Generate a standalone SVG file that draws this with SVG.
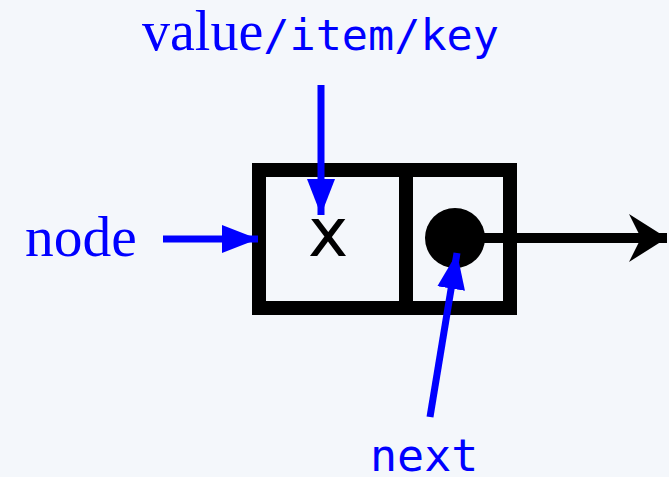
<svg xmlns="http://www.w3.org/2000/svg" width="669" height="477" viewBox="0 0 669 477">
<style>
.serif{font-family:"Liberation Serif","DejaVu Serif",serif;fill:#0000ff}
.mono{font-family:"DejaVu Sans Mono","Liberation Mono",monospace;fill:#0000ff}
.box{fill:none;stroke:#000;stroke-width:14}
.blue{stroke:#0000ff;stroke-width:7;fill:none}
</style>
<defs>
<marker id="bh" markerUnits="userSpaceOnUse" markerWidth="40" markerHeight="30" refX="36" refY="14" orient="auto">
<path d="M0,0 L36,14 L0,28 Z" fill="#0000ff"/>
</marker>
<marker id="kh" markerUnits="userSpaceOnUse" markerWidth="40" markerHeight="50" refX="38" refY="24" orient="auto">
<path d="M0,0 L38,24 L0,48 L12,24 Z" fill="#000"/>
</marker>
</defs>
<rect width="669" height="477" fill="#f4f7fb"/>
<g id="node-box">
<rect class="box" x="259" y="170" width="251" height="138"/>
<line class="box" x1="406" y1="170" x2="406" y2="308"/>
<text x="328" y="256" font-family="DejaVu Sans,sans-serif" font-size="68" text-anchor="middle" fill="#000">x</text>
<circle cx="455" cy="238" r="30" fill="#000"/>
</g>
<g id="label-value">
<text x="142" y="50" font-size="56"><tspan class="serif">value</tspan><tspan class="mono" font-size="43.5">/item/key</tspan></text>
</g>
<g id="label-node">
<text class="serif" x="25" y="256" font-size="57.5">node</text>
</g>
<g id="label-next">
<text class="mono" x="370" y="471" font-size="45">next</text>
</g>
<g id="connectors">
<line class="blue" x1="163" y1="239" x2="258" y2="239" marker-end="url(#bh)"/>
<line class="blue" x1="321" y1="85" x2="321" y2="215" marker-end="url(#bh)"/>
<line class="blue" x1="430" y1="417" x2="457" y2="253" marker-end="url(#bh)"/>
<line x1="455" y1="238" x2="667" y2="238" stroke="#000" stroke-width="10" marker-end="url(#kh)"/>
</g>
</svg>
